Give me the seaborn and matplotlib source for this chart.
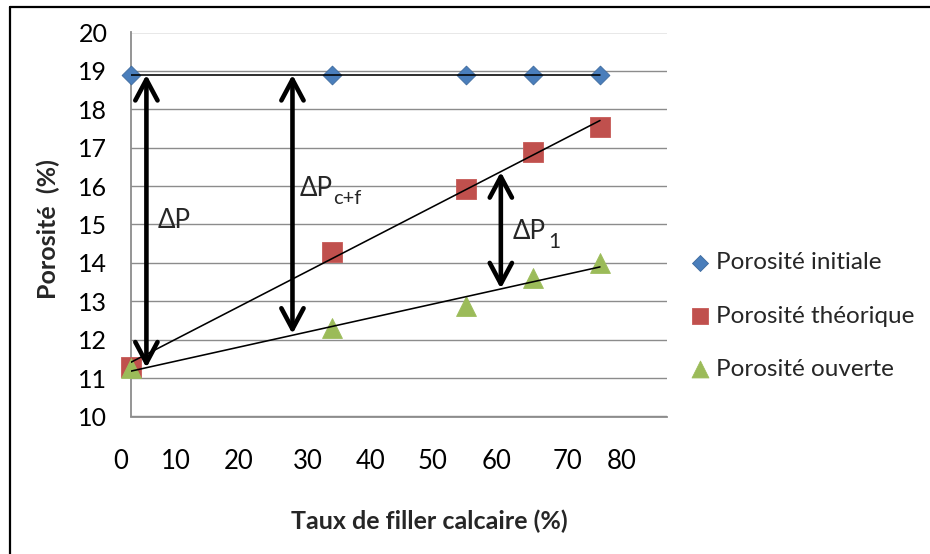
import matplotlib
matplotlib.use("Agg")
import matplotlib.pyplot as plt
import seaborn as sns
import pandas as pd
from matplotlib.lines import Line2D

# ---------------- data ----------------
taux = [0, 30, 50, 60, 70]
por_initiale = [18.9, 18.9, 18.9, 18.9, 18.9]
por_theorique = [11.3, 14.28, 15.92, 16.9, 17.55]
por_ouverte = [11.26, 12.3, 12.89, 13.6, 14.0]
series_names = ["Porosité initiale", "Porosité théorique", "Porosité ouverte"]
y_ticks = [10, 11, 12, 13, 14, 15, 16, 17, 18, 19, 20]
x_ticks = [0, 10, 20, 30, 40, 50, 60, 70, 80]
x_tick_labels = ["0", "10", "20", "30", "40", "50", "60", "70", "80"]
x_label = "Taux de filler calcaire (%)"
y_label = "Porosité  (%)"

# ---------------- style ----------------
sns.set_style("white")
plt.rcParams["font.family"] = ["Lato", "DejaVu Sans"]

FIG_W, FIG_H = 9.3, 5.54
fig = plt.figure(figsize=(FIG_W, FIG_H), dpi=100)
ax = fig.add_axes([131 / 930, 1 - 416.5 / 554, 536 / 930, 384 / 554])

blue, red, green = "#4A7EBB", "#C0504D", "#9BBB59"
grid_c = "#8C8C8C"

df = pd.DataFrame({"taux": taux, "ini": por_initiale,
                   "theo": por_theorique, "ouv": por_ouverte})

sns.scatterplot(data=df, x="taux", y="ini", marker="D", s=92, color=blue,
                edgecolor="#3D6A9E", linewidth=0.6, label=series_names[0],
                ax=ax, clip_on=False, zorder=3)
sns.scatterplot(data=df, x="taux", y="theo", marker="s", s=200, color=red,
                edgecolor="#C65A57", linewidth=0.6, label=series_names[1],
                ax=ax, clip_on=False, zorder=3)
sns.scatterplot(data=df, x="taux", y="ouv", marker="^", s=205, color=green,
                edgecolor="#9DBD5C", linewidth=0.6, label=series_names[2],
                ax=ax, clip_on=False, zorder=3)

# linear trend lines
for col in ["ini", "theo", "ouv"]:
    sns.regplot(data=df, x="taux", y=col, scatter=False, ci=None, ax=ax,
                line_kws=dict(color="black", lw=1.15, zorder=4))

ax.set_xlim(0, 80)
ax.set_ylim(10, 20)
ax.set_yticks(y_ticks)
ax.set_yticklabels([str(v) for v in y_ticks])
ax.set_xticks(x_ticks)
ax.set_xticklabels([""] * len(x_ticks))

# x tick labels sit offset from their ticks in the reference
label_shift = [-1.6, -3.3, -4.0, -3.6, -4.2, -5.0, -5.5, -4.9, -6.7]
for v, t, sh in zip(x_ticks, x_tick_labels, label_shift):
    ax.text(v + sh, 8.82, t, ha="center", va="center", fontsize=18.5,
            color="black", clip_on=False)

ax.grid(axis="y", color=grid_c, lw=1.0)
ax.grid(axis="x", visible=False)
for s in ["top", "right"]:
    ax.spines[s].set_visible(False)
for s in ["left", "bottom"]:
    ax.spines[s].set_color(grid_c)
    ax.spines[s].set_linewidth(1.3)
ax.tick_params(axis="both", direction="out", length=6, width=1.2,
               color=grid_c, labelsize=18, labelcolor="black")
ax.tick_params(axis="y", pad=11)
ax.set_axisbelow(True)

ax.set_xlabel(x_label, fontsize=18, fontweight="bold")
ax.set_ylabel(y_label, fontsize=18, fontweight="bold")
ax.xaxis.set_label_coords(0.556, -0.243)
ax.yaxis.set_label_coords(-0.1325, 0.488)

# double arrows
arrow_kw = dict(arrowstyle="<->,head_length=0.75,head_width=0.4",
                lw=3.3, color="black", shrinkA=0, shrinkB=0,
                mutation_scale=20)
for xa, y0, y1 in [(2.3, 18.9, 11.27), (24.1, 18.9, 12.15), (55.2, 16.37, 13.33)]:
    ax.annotate("", xy=(xa, y1), xytext=(xa, y0), arrowprops=arrow_kw,
                zorder=5)

t1 = ax.text(3.9, 14.91, "ΔP", fontsize=18.5, ha="left", va="baseline")
t2 = ax.text(25.1, 15.74, "ΔP", fontsize=18.5, ha="left", va="baseline")
ax.annotate("c+f", xy=(1, 0), xycoords=t2, xytext=(1, -4),
            textcoords="offset points", fontsize=14.5, ha="left", va="bottom")
t3 = ax.text(57.0, 14.62, "ΔP", fontsize=18.5, ha="left", va="baseline")
ax.annotate("1", xy=(1, 0), xycoords=t3, xytext=(2, -6),
            textcoords="offset points", fontsize=15, ha="left", va="bottom")

# legend
ax.legend(loc="center left", bbox_to_anchor=(690 / 930, 1 - 316 / 554),
          bbox_transform=fig.transFigure, frameon=False, fontsize=17.5,
          labelspacing=1.32, handlelength=0.8, handletextpad=0.25,
          markerscale=0.85, borderaxespad=0, borderpad=0)

# outer frame (left and top edges visible)
fig.add_artist(Line2D([10 / 930, 10 / 930], [0, 1 - 7 / 554],
                      transform=fig.transFigure, color="black", lw=1.6))
fig.add_artist(Line2D([10 / 930, 1], [1 - 7 / 554, 1 - 7 / 554],
                      transform=fig.transFigure, color="black", lw=1.6))

fig.savefig("out.png", dpi=100)
